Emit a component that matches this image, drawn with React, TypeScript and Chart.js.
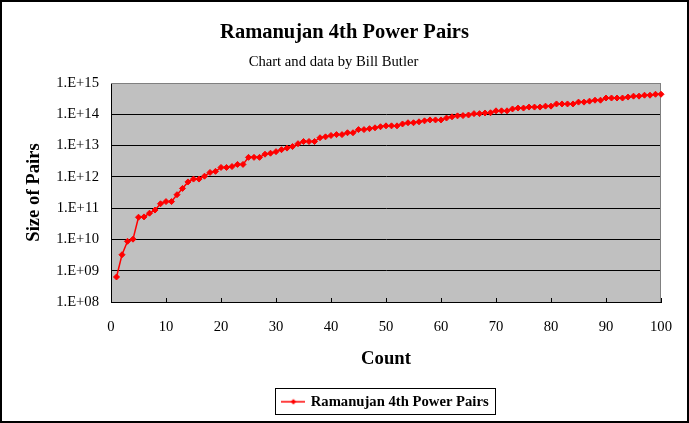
import React, { useEffect, useRef } from 'react';
import { Chart, registerables } from 'chart.js';

Chart.register(...registerables);

const chartTitle = 'Ramanujan 4th Power Pairs';
const chartSubtitle = 'Chart and data by Bill Butler';
const seriesName = 'Ramanujan 4th Power Pairs';
const xAxisTitle = 'Count';
const yAxisTitle = 'Size of Pairs';

const counts = [
  1, 2, 3, 4, 5, 6, 7, 8, 9, 10,
  11, 12, 13, 14, 15, 16, 17, 18, 19, 20,
  21, 22, 23, 24, 25, 26, 27, 28, 29, 30,
  31, 32, 33, 34, 35, 36, 37, 38, 39, 40,
  41, 42, 43, 44, 45, 46, 47, 48, 49, 50,
  51, 52, 53, 54, 55, 56, 57, 58, 59, 60,
  61, 62, 63, 64, 65, 66, 67, 68, 69, 70,
  71, 72, 73, 74, 75, 76, 77, 78, 79, 80,
  81, 82, 83, 84, 85, 86, 87, 88, 89, 90,
  91, 92, 93, 94, 95, 96, 97, 98, 99, 100,
];

const pairSizes = [
  6.3e8, 3.24e9, 8.7e9, 1.02e10, 5.13e10, 5.25e10, 6.9e10, 8.7e10, 1.38e11, 1.62e11,
  1.62e11, 2.69e11, 4.27e11, 6.9e11, 8.5e11, 8.5e11, 1.05e12, 1.38e12, 1.5e12, 2.0e12,
  2.0e12, 2.14e12, 2.5e12, 2.5e12, 4.2e12, 4.2e12, 4.2e12, 5.3e12, 5.7e12, 6.4e12,
  7.4e12, 8.3e12, 9.3e12, 1.15e13, 1.35e13, 1.35e13, 1.35e13, 1.78e13, 1.9e13, 2.1e13,
  2.24e13, 2.24e13, 2.57e13, 2.57e13, 3.24e13, 3.24e13, 3.47e13, 3.7e13, 4.0e13, 4.27e13,
  4.27e13, 4.27e13, 4.9e13, 5.37e13, 5.37e13, 5.75e13, 6.17e13, 6.6e13, 6.6e13, 6.6e13,
  7.6e13, 8.3e13, 8.9e13, 9.1e13, 9.5e13, 1.05e14, 1.05e14, 1.1e14, 1.12e14, 1.29e14,
  1.29e14, 1.29e14, 1.48e14, 1.58e14, 1.58e14, 1.7e14, 1.7e14, 1.7e14, 1.82e14, 1.82e14,
  2.14e14, 2.14e14, 2.14e14, 2.14e14, 2.45e14, 2.45e14, 2.63e14, 2.82e14, 2.82e14, 3.31e14,
  3.31e14, 3.31e14, 3.31e14, 3.55e14, 3.8e14, 3.8e14, 4.07e14, 4.07e14, 4.37e14, 4.37e14,
];

const yTickValues = [1e8, 1e9, 1e10, 1e11, 1e12, 1e13, 1e14, 1e15];
const yTickLabels = ['1.E+08', '1.E+09', '1.E+10', '1.E+11', '1.E+12', '1.E+13', '1.E+14', '1.E+15'];

const W = 689;
const H = 423;
const FONT = "'Liberation Serif', 'Times New Roman', serif";

export default function App() {
  const ref = useRef<HTMLCanvasElement | null>(null);

  useEffect(() => {
    const canvas = ref.current;
    if (!canvas) return;

    const legendIcon = document.createElement('canvas');
    legendIcon.width = 24;
    legendIcon.height = 8;
    const ic = legendIcon.getContext('2d')!;
    ic.strokeStyle = '#FF0000';
    ic.lineWidth = 1.5;
    ic.beginPath();
    ic.moveTo(0, 4);
    ic.lineTo(24, 4);
    ic.stroke();
    ic.fillStyle = '#FF0000';
    ic.beginPath();
    ic.moveTo(12, 1.2);
    ic.lineTo(14.8, 4);
    ic.lineTo(12, 6.8);
    ic.lineTo(9.2, 4);
    ic.closePath();
    ic.fill();

    const framePlugin: any = {
      id: 'frame',
      afterLayout(chart: any) {
        for (const box of chart.boxes) {
          const t = box.options && box.options.text;
          if (t === chartTitle) {
            box.left = 0;
            box.right = W;
          } else if (t === chartSubtitle) {
            box.left = -22;
            box.right = W;
          }
        }
      },
      beforeDraw(chart: any) {
        const { ctx, chartArea: a } = chart;
        ctx.save();
        ctx.fillStyle = '#FFFFFF';
        ctx.fillRect(0, 0, W, H);
        ctx.fillStyle = '#C0C0C0';
        ctx.fillRect(a.left, a.top, a.right - a.left, a.bottom - a.top);
        ctx.restore();
      },
      beforeDatasetsDraw(chart: any) {
        const { ctx, chartArea: a, scales } = chart;
        ctx.save();
        ctx.lineWidth = 1;
        ctx.strokeStyle = '#808080';
        const top = Math.round(a.top) + 0.5;
        const right = Math.round(a.right) - 0.5;
        ctx.beginPath();
        ctx.moveTo(a.left, top);
        ctx.lineTo(right, top);
        ctx.lineTo(right, a.bottom);
        ctx.stroke();
        ctx.strokeStyle = '#000000';
        ctx.beginPath();
        for (const t of scales.x.ticks) {
          const px = Math.round(scales.x.getPixelForValue(t.value)) + 0.5;
          ctx.moveTo(px, a.bottom);
          ctx.lineTo(px, a.bottom - 4);
        }
        ctx.stroke();
        ctx.restore();
      },
      afterDraw(chart: any) {
        const { ctx } = chart;
        const lg = chart.legend;
        const hb = lg && lg.legendHitBoxes && lg.legendHitBoxes[0];
        ctx.save();
        ctx.strokeStyle = '#000000';
        ctx.lineWidth = 1;
        if (hb) {
          ctx.strokeRect(
            Math.round(hb.left - 8) + 0.5,
            Math.round(hb.top - 6) + 0.5,
            Math.round(hb.width + 15),
            26
          );
        }
        ctx.lineWidth = 2;
        ctx.strokeRect(1, 1, W - 2, H - 2);
        ctx.restore();
      },
    };

    Chart.defaults.font.family = FONT;
    Chart.defaults.color = '#000000';

    const chart = new Chart(canvas, {
      type: 'line',
      data: {
        datasets: [
          {
            label: seriesName,
            data: counts.map((c, i) => ({ x: c, y: pairSizes[i] })),
            borderColor: '#FF0000',
            backgroundColor: '#FF0000',
            borderWidth: 1.5,
            pointStyle: 'rectRot',
            pointRadius: 3,
            pointBorderWidth: 1,
            pointBackgroundColor: '#FF0000',
            pointBorderColor: '#FF0000',
            tension: 0,
            fill: false,
            clip: false,
          } as any,
        ],
      },
      options: {
        responsive: false,
        maintainAspectRatio: false,
        devicePixelRatio: 1,
        animation: false,
        events: [],
        layout: { padding: { top: 0, left: 0, right: 28, bottom: 3.93 } },
        plugins: {
          title: {
            display: true,
            text: chartTitle,
            color: '#000000',
            font: { family: FONT, size: 20.5, weight: 'bold' },
            padding: { top: 20, bottom: 0 },
          },
          subtitle: {
            display: true,
            text: chartSubtitle,
            color: '#000000',
            font: { family: FONT, size: 14.67, weight: 'normal' },
            padding: { top: 8.3, bottom: 12.5 },
          },
          legend: {
            display: true,
            position: 'bottom',
            fullSize: false,
            labels: {
              usePointStyle: true,
              pointStyle: legendIcon as any,
              pointStyleWidth: 20,
              padding: 20.4,
              color: '#000000',
              font: { family: FONT, size: 14.67, weight: 'bold' },
            },
          },
          tooltip: { enabled: false },
        },
        scales: {
          x: {
            type: 'linear',
            min: 0,
            max: 100,
            afterFit: (s: any) => {
              s.height = 72;
            },
            ticks: {
              stepSize: 10,
              autoSkip: false,
              maxRotation: 0,
              padding: 16,
              color: '#000000',
              font: { family: FONT, size: 14.67 },
            },
            grid: { display: false, drawTicks: false },
            border: { display: true, color: '#000000', width: 1 },
            title: {
              display: true,
              text: xAxisTitle,
              color: '#000000',
              font: { family: FONT, size: 18.67, weight: 'bold' },
              padding: { top: 0, bottom: 4.1 },
            },
          },
          y: {
            type: 'logarithmic',
            min: 1e8,
            max: 1e15,
            afterBuildTicks: (s: any) => {
              s.ticks = yTickValues.map((v) => ({ value: v }));
            },
            afterFit: (s: any) => {
              s.width = 111;
            },
            ticks: {
              autoSkip: false,
              padding: 12,
              color: '#000000',
              font: { family: FONT, size: 14.67 },
              callback: (v: any) => {
                const idx = yTickValues.indexOf(Number(v));
                return idx >= 0 ? yTickLabels[idx] : '';
              },
            },
            grid: {
              drawTicks: false,
              lineWidth: 1,
              color: (c: any) => (c.tick && c.tick.value === 1e15 ? '#808080' : '#000000'),
            },
            border: { display: true, color: '#000000', width: 1 },
            title: {
              display: true,
              text: yAxisTitle,
              color: '#000000',
              font: { family: FONT, size: 18.67, weight: 'bold' },
              padding: { top: 22.5, bottom: 0 },
            },
          },
        },
      } as any,
      plugins: [framePlugin],
    });

    return () => {
      chart.destroy();
    };
  }, []);

  return (
    <div style={{ position: 'absolute', left: 0, top: 0, width: W, height: H }}>
      <canvas ref={ref} width={W} height={H} style={{ display: 'block', width: W, height: H }} />
    </div>
  );
}
